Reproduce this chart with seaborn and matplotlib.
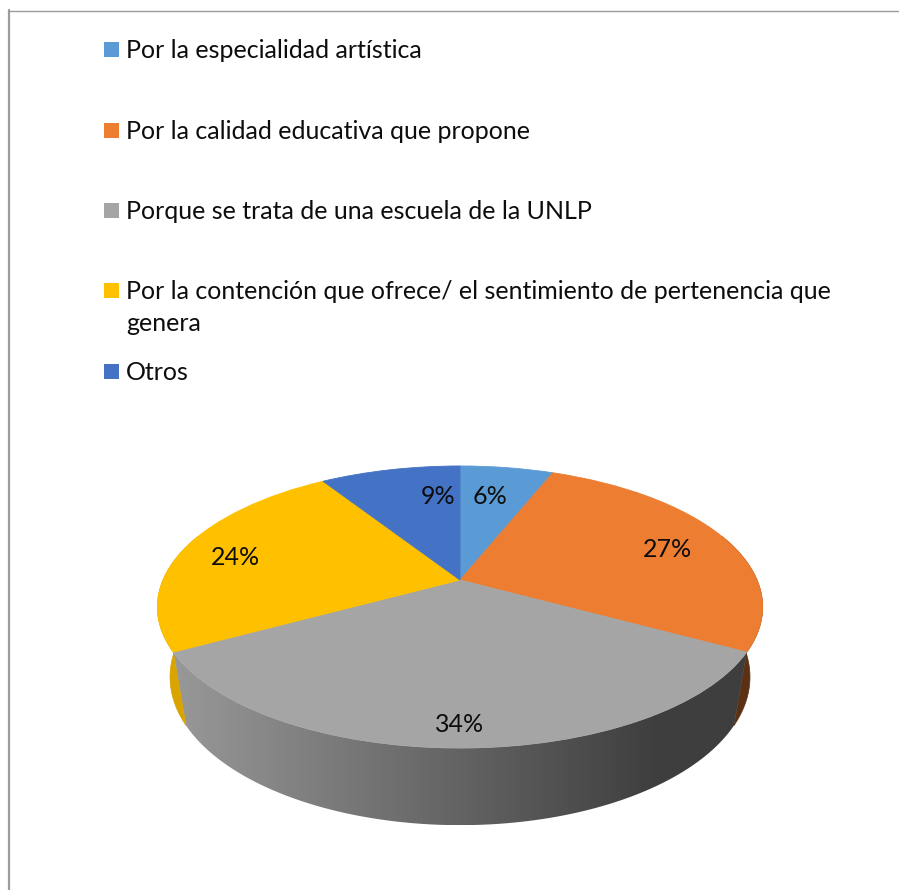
import numpy as np
import matplotlib
matplotlib.use("Agg")
import matplotlib.pyplot as plt
import matplotlib.transforms as mtransforms
from matplotlib.patches import Polygon, Rectangle
from matplotlib.lines import Line2D
from matplotlib.colors import LinearSegmentedColormap
import seaborn as sns

# ---------------- data ----------------
categories = [
    "Por la especialidad artística",
    "Por la calidad educativa que propone",
    "Porque se trata de una escuela de la UNLP",
    "Por la contención que ofrece/ el sentimiento de pertenencia que\ngenera",
    "Otros",
]
values = [6, 27, 34, 24, 9]
top_colors = ["#5B9BD5", "#ED7D31", "#A5A5A5", "#FFC000", "#4472C4"]
side_colors = ["#3F6E99", "#5C3113", None, "#D9A300", "#2F5597"]
grey_side_grad = ["#989898", "#3E3E3E"]

# label placement (radius in pie units, angular nudge in degrees)
label_radius = [0.71, 0.77, 0.886, 0.80, 0.706]
label_turn = [1.5, -1.75, 0.0, 1.8, -9.4]

# ---------------- style ----------------
sns.set_theme(style="white")
plt.rcParams["font.family"] = ["Lato", "DejaVu Sans"]
TXT = "#0D0D0D"
FS = 18

W, H = 899, 890
fig = plt.figure(figsize=(W / 100, H / 100), dpi=100)
fig.patch.set_facecolor("white")
ax = fig.add_axes([0, 0, 1, 1])

# perspective projection of the pie (u, v in unit disc, t = depth 0..1)
CX, S, A, B, C, G, D = 460.0, 297.0, 580.0, -24.8, 0.1915, 0.042, 97.0


def project(u, v, t=0.0):
    w = 1 + C * v + G * t
    return CX + S * u / w, (A + B * v + D * t) / w


class Persp(mtransforms.Transform):
    input_dims = 2
    output_dims = 2
    is_separable = False

    def transform_non_affine(self, values):
        values = np.asarray(values, dtype=float)
        x, y = project(values[:, 0], values[:, 1], 0.0)
        return np.column_stack([x, y])


persp = Persp()

wedges, _, autotexts = ax.pie(
    values, colors=top_colors, startangle=90, counterclock=False,
    radius=1, center=(0, 0), autopct=lambda p: f"{p:.0f}%",
    wedgeprops=dict(linewidth=0.6), textprops=dict(color=TXT, fontsize=FS),
)
for w_, col in zip(wedges, top_colors):
    w_.set_transform(persp + ax.transData)
    w_.set_edgecolor(col)
    w_.set_zorder(3)

# side walls (front part of the cylinder)
front_lo, front_hi = -200.0, 20.0
cmap = LinearSegmentedColormap.from_list("g", grey_side_grad)
for i, w_ in enumerate(wedges):
    a = max(w_.theta1, front_lo)
    b = min(w_.theta2, front_hi)
    if b <= a:
        continue
    phi = np.radians(np.linspace(a, b, 200))
    u, v = np.cos(phi), np.sin(phi)
    xt, yt = project(u, v, 0.0)
    xb, yb = project(u, v, 1.0)
    verts = np.column_stack([np.r_[xt, xb[::-1]], np.r_[yt, yb[::-1]]])
    if side_colors[i] is None:
        poly = Polygon(verts, closed=True, transform=ax.transData,
                       facecolor="none", edgecolor="none")
        ax.add_patch(poly)
        x0, x1 = verts[:, 0].min(), verts[:, 0].max()
        y0, y1 = verts[:, 1].min(), verts[:, 1].max()
        xs = np.linspace(x0, x1, 400)
        grad = np.clip((xs - 175) / (660 - 175), 0, 1)[None, :]
        im = ax.imshow(grad, cmap=cmap, vmin=0, vmax=1, aspect="auto",
                       extent=(x0, x1, y1, y0), zorder=2, interpolation="bilinear")
        im.set_clip_path(poly)
    else:
        ax.add_patch(Polygon(verts, closed=True, facecolor=side_colors[i],
                             edgecolor=side_colors[i], lw=0.5, zorder=2))

# percentage labels
for i, (w_, t) in enumerate(zip(wedges, autotexts)):
    mid = np.radians((w_.theta1 + w_.theta2) / 2 + label_turn[i])
    r = label_radius[i]
    t.set_position((r * np.cos(mid), r * np.sin(mid)))
    t.set_transform(persp + ax.transData)
    t.set_ha("center")
    t.set_va("center")
    t.set_zorder(5)

# legend (manual, Word-style)
leg_x_box, leg_x_txt = 104, 126
baselines = [58, 139, 219, 299, 380]
line_gap = 32
for i, lab in enumerate(categories):
    yb = baselines[i]
    ax.add_patch(Rectangle((leg_x_box, yb - 16), 15, 15, facecolor=top_colors[i],
                           edgecolor="none", zorder=5))
    for k, line in enumerate(lab.split("\n")):
        ax.text(leg_x_txt, yb + k * line_gap, line, fontsize=FS, color=TXT,
                ha="left", va="baseline", zorder=5)

# chart frame (left and top edges visible)
ax.add_line(Line2D([8.5, 8.5], [10, H + 5], color="#9C9C9C", lw=1.6, zorder=6))
ax.add_line(Line2D([8, W + 5], [10.5, 10.5], color="#9C9C9C", lw=1.0, zorder=6))

ax.set_aspect("auto")
ax.set_xlim(0, W)
ax.set_ylim(H, 0)
ax.axis("off")

fig.savefig("out.png", dpi=100, facecolor="white")
